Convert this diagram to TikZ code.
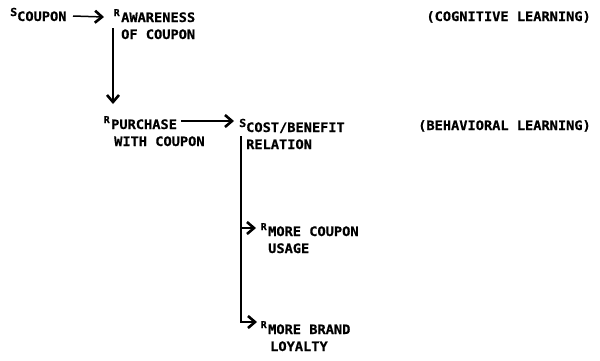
\documentclass[tikz,border=0pt]{standalone}
\usepackage{fontspec}
\newfontfamily\tw{DejaVu Sans Mono}[BoldFont=* Bold, FakeStretch=1.05,
  BoldFeatures={FakeBold=0.6}]
\usetikzlibrary{arrows.meta}
% small raised lead letter (stimulus / response marker)
\newcommand\leadS[1]{\llap{\raisebox{5pt}{\fontsize{11}{11}\selectfont#1}}}
\newcommand\leadR[1]{\llap{\raisebox{6pt}{\fontsize{9.5}{9.5}\selectfont#1}\kern1.5pt}}
% two-line label whose baseline is that of its first line
\newcommand\twoline[2]{\begin{tabular}[t]{@{}l@{}}#1\\#2\end{tabular}}
\tikzset{
  lbl/.style={inner sep=0pt, anchor=base west,
    font=\tw\bfseries\fontsize{13}{17}\selectfont},
  note/.style={lbl, anchor=base east},
  arr/.style={line width=1.5pt, -{Straight Barb[length=7pt,width=12pt,line width=2.6pt]}},
}
\begin{document}
\begin{tikzpicture}[x=1pt,y=-1pt]
\useasboundingbox (0,0) rectangle (600,360);
% stimuli and responses
\node[lbl] (coupon)   at (17,21)  {\leadS{S}COUPON};
\node[lbl] (aware)    at (121,22) {\twoline{\leadR{R}AWARENESS}{OF COUPON}};
\node[lbl] (purchase) at (111,129){\twoline{\leadR{R}PURCHASE}{\hspace*{3pt}WITH COUPON}};
\node[lbl] (cost)     at (246,132){\twoline{\leadS{S}COST/BENEFIT}{RELATION}};
\node[lbl] (usage)    at (268,236){\twoline{\leadR{R}MORE COUPON}{USAGE}};
\node[lbl] (loyalty)  at (268,334){\twoline{\leadR{R}MORE BRAND}{\hspace*{2pt}LOYALTY}};
% learning stages
\node[note] (cog) at (591,21)  {(COGNITIVE LEARNING)};
\node[note] (beh) at (591,130) {(BEHAVIORAL LEARNING)};
% connectors
\draw[arr] ([shift={(56,-5)}]coupon.base west) -- ([shift={(-17,-5)}]aware.base west);
\coordinate (d0) at ([shift={(-8,6)}]aware.base west);
\coordinate (d1) at ([shift={(2,-25)}]purchase.base west);
\draw[arr] (d0) -- (d0 |- d1);
\coordinate (h0) at ([shift={(70,-8)}]purchase.base west);
\coordinate (h1) at ([shift={(-12,-10)}]cost.base west);
\draw[arr] (h0) -- (h0 -| h1);
\coordinate (v0) at ([shift={(-5,4)}]cost.base west);
\draw[arr] (v0) |- ([shift={(-11,-12)}]loyalty.base west);
\coordinate (b1) at ([shift={(-12,-8)}]usage.base west);
\draw[arr] (v0 |- b1) -- (b1);
\end{tikzpicture}
\end{document}
